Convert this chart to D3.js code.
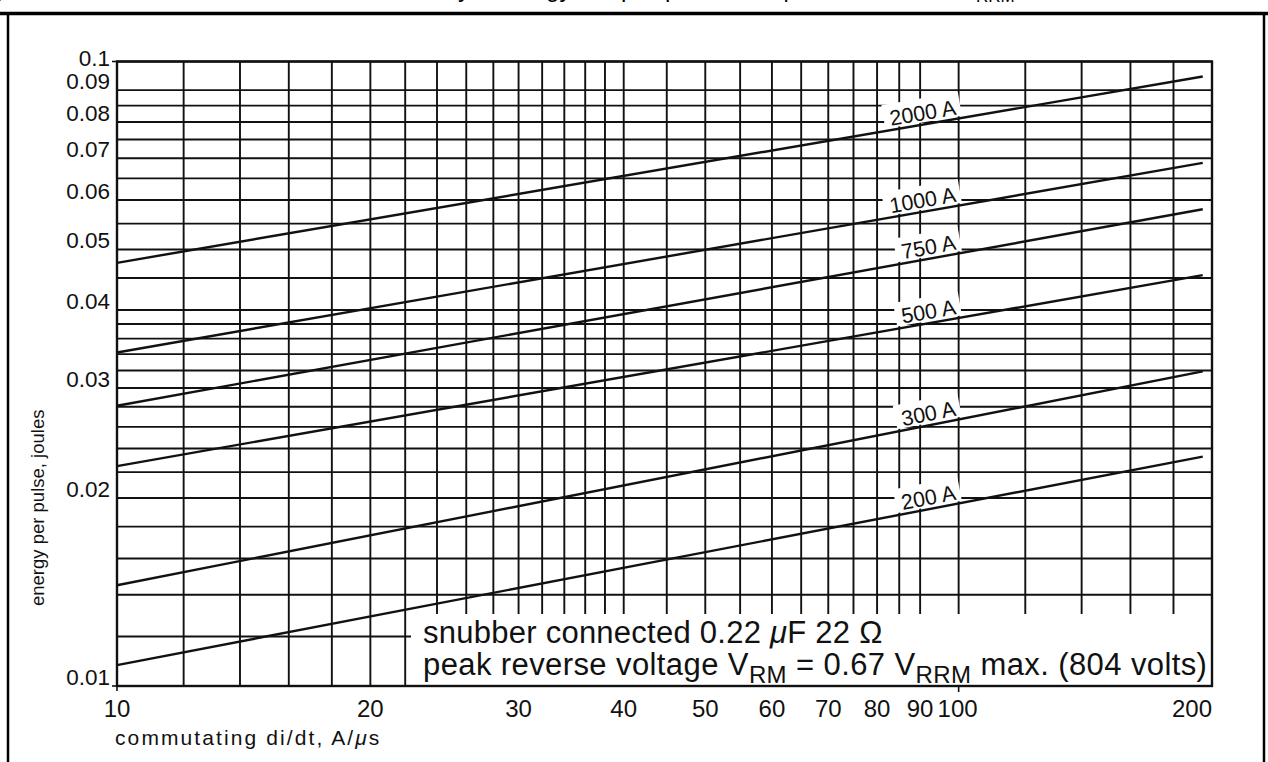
<!DOCTYPE html>
<html><head><meta charset="utf-8">
<script src="https://cdn.jsdelivr.net/npm/d3@7"></script>
<style>html,body{margin:0;padding:0;background:#fff;overflow:hidden}</style>
</head><body>
<svg id="c" width="1268" height="762" xmlns="http://www.w3.org/2000/svg"></svg>
<script>
// ---------- data ----------
const xGridValues = [10,12,14,16,18,20,22,24,26,28,30,32,34,36,38,40,45,50,55,60,65,70,75,80,85,90,100,120,140,160,180,200];
const yGridValues = [0.010,0.012,0.014,0.016,0.018,0.020,0.022,0.024,0.026,0.028,0.030,0.032,0.034,0.036,0.038,0.040,
                     0.045,0.050,0.055,0.060,0.065,0.070,0.075,0.080,0.085,0.090,0.100];
const xTickLabels = [10,20,30,40,50,60,70,80,90,100,200];
const yTickLabels = [0.01,0.02,0.03,0.04,0.05,0.06,0.07,0.08,0.09,0.1];
const seriesNames = ["2000 A","1000 A","750 A","500 A","300 A","200 A"];
const curveDiDt = [10, 195];
const energy2000A = [0.0476, 0.0946];
const energy1000A = [0.0342, 0.0688];
const energy750A  = [0.0281, 0.0580];
const energy500A  = [0.0225, 0.0455];
const energy300A  = [0.0145, 0.0319];
const energy200A  = [0.0108, 0.0233];
const seriesValues = [energy2000A, energy1000A, energy750A, energy500A, energy300A, energy200A];
const labelDiDt = 100;
const xTitle = "commutating di/dt, A/";
const yTitle = "energy per pulse, joules";

// ---------- drawing ----------
const ink = "#111";
const svg = d3.select("#c");
const x = d3.scaleLog().domain([10,200]).range([117,1212]);
const y = d3.scaleLog().domain([0.01,0.1]).range([686,61.5]);
const [x0,x1] = x.range(), [y0,y1] = y.range();
const sans = "Liberation Sans, Arial, sans-serif";

// page frame
svg.append("line").attr("x1",0).attr("x2",1268).attr("y1",13.5).attr("y2",13.5).attr("stroke","#000").attr("stroke-width",3.5);
svg.append("line").attr("x1",8).attr("x2",8).attr("y1",12).attr("y2",762).attr("stroke","#000").attr("stroke-width",2.5);
svg.append("line").attr("x1",1264).attr("x2",1264).attr("y1",12).attr("y2",762).attr("stroke","#000").attr("stroke-width",2.5);

// cut-off title (page above is cropped; only descenders visible)
const title = svg.append("text").attr("y",-3).attr("font-family",sans).attr("font-size",24).attr("fill","#000");
title.append("tspan").attr("x",-30).text("Fig.9");
title.append("tspan").attr("x",470).attr("text-anchor","end").text("Reverse recovery");
title.append("tspan").attr("x",498).attr("text-anchor","start").text("energy");
title.append("tspan").attr("x",621).text("per");
title.append("tspan").attr("x",665).text("pulse,");
title.append("tspan").attr("x",783).text("|V");
title.append("tspan").attr("x",960).text("V");
title.append("tspan").attr("dy",5).attr("font-size",17).text("RRM");

// grid
const grid = svg.append("g").attr("stroke",ink).attr("stroke-width",1.9);
grid.selectAll("line.v").data(xGridValues).join("line").attr("class","v")
  .attr("x1",d=>x(d)).attr("x2",d=>x(d)).attr("y1",y1).attr("y2",y0);
grid.selectAll("line.h").data(yGridValues).join("line").attr("class","h")
  .attr("x1",x0).attr("x2",x1).attr("y1",d=>y(d)).attr("y2",d=>y(d));

// white note box over the grid
svg.append("rect").attr("x",411).attr("y",614).attr("width",x1-411).attr("height",y0-614).attr("fill","#fff");

const bgLayer = svg.append("g");
const curveLayer = svg.append("g");
const labelLayer = svg.append("g");

const line = d3.line().x(d=>x(d[0])).y(d=>y(d[1]));
seriesValues.forEach((vals,i)=>{
  const pts = curveDiDt.map((d,k)=>[d, vals[k]]);
  curveLayer.append("path").attr("d", line(pts)).attr("fill","none").attr("stroke",ink).attr("stroke-width",2.4);
  const t = (Math.log(labelDiDt)-Math.log(curveDiDt[0]))/(Math.log(curveDiDt[1])-Math.log(curveDiDt[0]));
  const ly = Math.exp(Math.log(vals[0]) + t*(Math.log(vals[1])-Math.log(vals[0])));
  const px = x(labelDiDt)-1, py = y(ly);
  const ang = Math.atan2(y(vals[1])-y(vals[0]), x(curveDiDt[1])-x(curveDiDt[0]))*180/Math.PI;
  const tr = `translate(${px},${py}) rotate(${ang})`;
  const txt = labelLayer.append("text").attr("transform",tr).attr("y",-4).attr("text-anchor","end")
    .attr("font-family",sans).attr("font-size",21.5).attr("fill",ink).text(seriesNames[i]);
  const bb = txt.node().getBBox();
  bgLayer.append("rect").attr("transform",tr).attr("x",bb.x-6).attr("y",bb.y-3)
    .attr("width",bb.width+10).attr("height",-2-(bb.y-3)).attr("fill","#fff");
});

// plot border
const border = svg.append("g").attr("stroke",ink).attr("stroke-width",2.4).attr("fill","none");
border.append("rect").attr("x",x0).attr("y",y1).attr("width",x1-x0).attr("height",y0-y1);
border.append("line").attr("x1",x0-5).attr("x2",x0).attr("y1",y(0.1)).attr("y2",y(0.1)).attr("stroke-width",1.6);
border.append("line").attr("x1",x0-5).attr("x2",x0).attr("y1",y(0.01)).attr("y2",y(0.01)).attr("stroke-width",1.6);
border.append("line").attr("x1",x(10)).attr("x2",x(10)).attr("y1",y0).attr("y2",y0+5).attr("stroke-width",1.6);
border.append("line").attr("x1",x(100)).attr("x2",x(100)).attr("y1",y0).attr("y2",y0+6).attr("stroke-width",1.6);

// y tick labels
svg.append("g").selectAll("text").data(yTickLabels).join("text")
  .attr("x",110).attr("y",d=>Math.max(y(d)-1, 66)).attr("text-anchor","end")
  .attr("font-family",sans).attr("font-size",22.5).attr("fill",ink)
  .text(d=>d3.format("")(d));

// x tick labels
svg.append("g").selectAll("text").data(xTickLabels).join("text")
  .attr("x",d=> d===200 ? x1 : (d===100 ? x(d)-1 : x(d))).attr("y",717)
  .attr("text-anchor",d=> d===200 ? "end" : "middle")
  .attr("font-family","Liberation Sans Narrow, Liberation Sans, Arial, sans-serif").attr("font-size",24).attr("fill",ink)
  .text(d=>d);

// axis titles
const xt = svg.append("text").attr("x",115).attr("y",745)
  .attr("font-family",sans).attr("font-size",21).attr("letter-spacing",2.1).attr("fill",ink);
xt.append("tspan").text(xTitle);
xt.append("tspan").attr("font-style","italic").text("\u03bc");
xt.append("tspan").text("s");
svg.append("text").attr("transform","translate(44,606) rotate(-90)")
  .attr("font-family",sans).attr("font-size",18.5).attr("fill",ink).text(yTitle);

// annotation
const a1 = svg.append("text").attr("x",423).attr("y",643).attr("font-family",sans).attr("font-size",31)
  .attr("letter-spacing",0.25).attr("fill",ink);
a1.append("tspan").text("snubber connected 0.22 ");
a1.append("tspan").attr("font-style","italic").text("\u03bc");
a1.append("tspan").text("F 22 \u03a9");
const a2 = svg.append("text").attr("x",423).attr("y",675).attr("font-family",sans).attr("font-size",31)
  .attr("letter-spacing",0.4).attr("fill",ink);
a2.append("tspan").text("peak reverse voltage V");
a2.append("tspan").attr("font-size",24).attr("dy",8).text("RM");
a2.append("tspan").attr("dy",-8).text(" = 0.67 V");
a2.append("tspan").attr("font-size",24).attr("dy",8).text("RRM");
a2.append("tspan").attr("dy",-8).text(" max. (804 volts)");
</script>
</body></html>
